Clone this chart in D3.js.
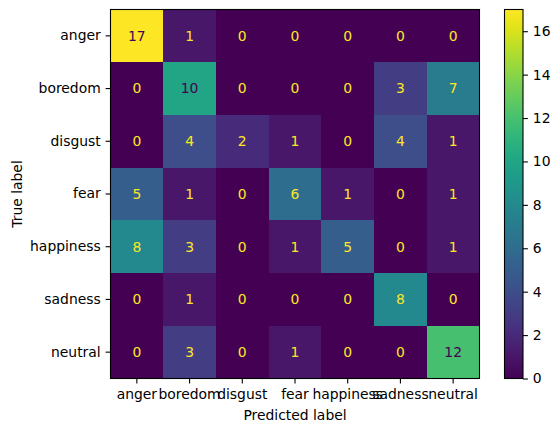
<!DOCTYPE html>
<html lang="en">
<head>
  <meta charset="UTF-8">
  <script src="https://d3js.org/d3.v7.min.js"></script>
  <title>Confusion matrix</title>
  <style>
    body { margin: 0; padding: 0; background: #fff; }
    svg { display: block; font-family: "DejaVu Sans", sans-serif; }
  </style>
</head>
<body>
  <div id="chart"></div>
  <script>
    // labels, same order for rows (true) and columns (predicted)
    let classes = ["anger", "boredom", "disgust", "fear", "happiness", "sadness", "neutral"]
    let counts = [
      [17, 1, 0, 0, 0, 0, 0],
      [0, 10, 0, 0, 0, 3, 7],
      [0, 4, 2, 1, 0, 4, 1],
      [5, 1, 0, 6, 1, 0, 1],
      [8, 3, 0, 1, 5, 0, 1],
      [0, 1, 0, 0, 0, 8, 0],
      [0, 3, 0, 1, 0, 0, 12]
    ]
    let cbarTicks = [0, 2, 4, 6, 8, 10, 12, 14, 16]

    let width = 559, height = 431
    let mLeft = 110.5, mTop = 9.5, size = 369
    let svg = d3.select("#chart").append("svg")
      .attr("width", width).attr("height", height)

    let vmax = d3.max(counts.flat()), vmin = d3.min(counts.flat())
    let color = d3.scaleSequential(d3.interpolateViridis).domain([vmin, vmax])

    let x = d3.scaleBand().domain(classes).range([mLeft, mLeft + size])
    let y = d3.scaleBand().domain(classes).range([mTop, mTop + size])

    let cells = []
    counts.forEach((row, i) => row.forEach((v, j) => cells.push({ t: classes[i], p: classes[j], v: v })))

    let g = svg.append("g")
    g.selectAll("rect").data(cells).enter().append("rect")
      .attr("x", d => x(d.p)).attr("y", d => y(d.t))
      .attr("width", x.bandwidth() + 0.6).attr("height", y.bandwidth() + 0.6)
      .attr("shape-rendering", "crispEdges")
      .attr("fill", d => color(d.v))

    let thresh = (vmax + vmin) / 2
    g.selectAll("text").data(cells).enter().append("text")
      .attr("x", d => x(d.p) + x.bandwidth() / 2)
      .attr("y", d => y(d.t) + y.bandwidth() / 2)
      .attr("text-anchor", "middle").attr("dy", "0.35em")
      .style("font-size", "13.9px")
      .attr("fill", d => d.v < thresh ? color(vmax) : color(vmin))
      .text(d => d.v)

    // frame
    svg.append("rect").attr("x", mLeft).attr("y", mTop)
      .attr("width", size).attr("height", size)
      .attr("fill", "none").attr("stroke", "#000").attr("stroke-width", 1.1)

    function styleAxis(sel) {
      sel.select(".domain").remove()
      sel.selectAll(".tick line").attr("stroke", "#000").attr("stroke-width", 1.1)
      sel.selectAll(".tick text").style("font-size", "13.9px").attr("fill", "#000")
        .style("font-family", "DejaVu Sans, sans-serif")
    }

    svg.append("g").attr("transform", `translate(0,${mTop + size})`)
      .call(d3.axisBottom(x).tickSize(4.9).tickPadding(5.5))
      .call(styleAxis)
    svg.append("g").attr("transform", `translate(${mLeft},0)`)
      .call(d3.axisLeft(y).tickSize(4.9).tickPadding(4.9))
      .call(styleAxis)

    svg.append("text").attr("x", mLeft + size / 2).attr("y", 420)
      .attr("text-anchor", "middle").style("font-size", "13.9px").text("Predicted label")
    svg.append("text")
      .attr("transform", `translate(22,${mTop + size / 2}) rotate(-90)`)
      .attr("text-anchor", "middle").style("font-size", "13.9px").text("True label")

    // colorbar
    let cbX = 504.5, cbW = 18.5
    let cy = d3.scaleLinear().domain([vmin, vmax]).range([mTop + size, mTop])
    let defs = svg.append("defs")
    let grad = defs.append("linearGradient").attr("id", "vir")
      .attr("x1", 0).attr("y1", 1).attr("x2", 0).attr("y2", 0)
    d3.range(0, 1.001, 0.05).forEach(t => {
      grad.append("stop").attr("offset", t).attr("stop-color", d3.interpolateViridis(t))
    })
    svg.append("rect").attr("x", cbX).attr("y", mTop).attr("width", cbW).attr("height", size)
      .attr("fill", "url(#vir)").attr("stroke", "#000").attr("stroke-width", 1.1)
    svg.append("g").attr("transform", `translate(${cbX + cbW},0)`)
      .call(d3.axisRight(cy).tickValues(cbarTicks).tickSize(4.9).tickPadding(4.9))
      .call(styleAxis)
  </script>
</body>
</html>
